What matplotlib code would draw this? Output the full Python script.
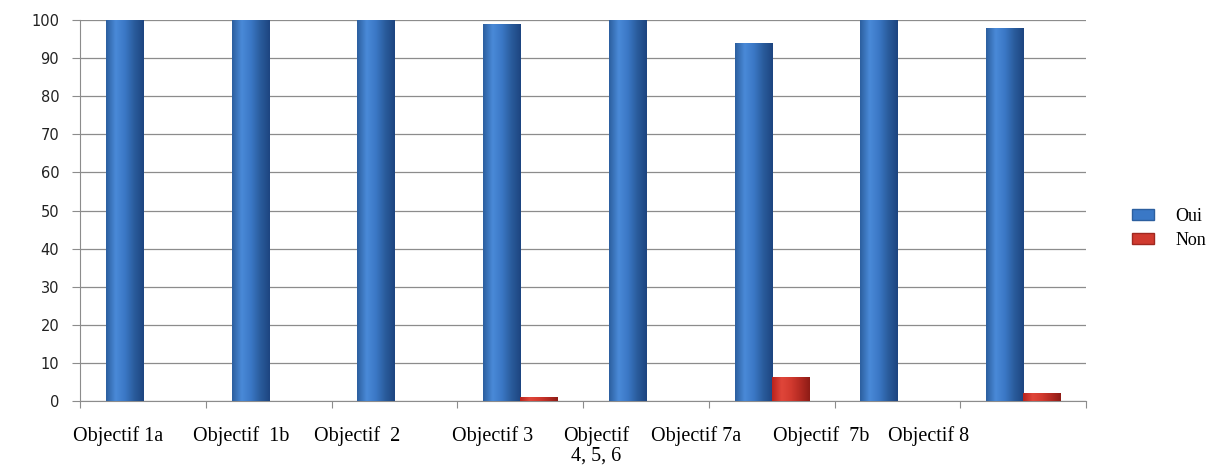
import numpy as np
import matplotlib.pyplot as plt
from matplotlib.colors import LinearSegmentedColormap
from matplotlib.patches import Patch

categories = ['Objectif 1a', 'Objectif  1b', 'Objectif  2', 'Objectif 3',
              'Objectif\n4, 5, 6', 'Objectif 7a', 'Objectif  7b', 'Objectif 8']
oui = [100, 100, 100, 99, 100, 94, 100, 98]
non = [0, 0, 0, 1, 0, 6.3, 0, 2]
# label positions are shifted left of the category centres in the original
label_offsets = [-0.2, -0.22, -0.3, -0.22, -0.4, -0.6, -0.61, -0.75]

blue_cmap = LinearSegmentedColormap.from_list('b', ['#2c5f9f', '#4a8ad8', '#3b78c6', '#2a5c9c', '#1d4580'])
red_cmap = LinearSegmentedColormap.from_list('r', ['#b8231c', '#e0463a', '#d23a2f', '#b32a22', '#8e1c16'])


def shade(ax, bars, cmap):
    grad = np.linspace(0, 1, 64).reshape(1, -1)
    for b in bars:
        x0, y0 = b.get_x(), b.get_y()
        w, h = b.get_width(), b.get_height()
        if h <= 0:
            continue
        im = ax.imshow(grad, cmap=cmap, aspect='auto', extent=(x0, x0 + w, y0, y0 + h),
                       zorder=b.get_zorder() + 0.1, interpolation='bicubic')
        im.set_clip_path(b)


fig = plt.figure(figsize=(12.13, 4.66), dpi=100)
ax = fig.add_axes([0.066, 0.1395, 0.8295, 0.8175])

x = np.arange(len(categories))
w = 0.295
b1 = ax.bar(x - w / 2, oui, w, color='#3a78c6', zorder=3)
b2 = ax.bar(x + w / 2, non, w, color='#d03a2f', zorder=3)
shade(ax, b1, blue_cmap)
shade(ax, b2, red_cmap)

ax.set_xlim(-0.5, len(categories) - 0.5)
ax.set_ylim(0, 100)
ax.set_yticks(range(0, 101, 10))
ax.tick_params(axis='y', length=6, color='#8c8c8c', labelsize=10.5, pad=9)
for t in ax.get_yticklabels():
    t.set_fontfamily('DejaVu Sans')
    t.set_color('#222222')
ax.yaxis.grid(True, color='#8c8c8c', linewidth=0.9, zorder=0)
ax.set_axisbelow(True)

ax.set_xticks(np.arange(-0.5, len(categories)), minor=False)
ax.set_xticklabels([])
ax.tick_params(axis='x', length=5, color='#8c8c8c', direction='out')

for i, (lab, off) in enumerate(zip(categories, label_offsets)):
    ax.text(i + off, -6.5, lab, ha='center', va='top', fontsize=14.5,
            family='Liberation Serif', linespacing=1.05)

for s in ['top', 'right']:
    ax.spines[s].set_visible(False)
ax.spines['left'].set_color('#8c8c8c')
ax.spines['bottom'].set_color('#8c8c8c')

handles = [Patch(facecolor='#3a78c6', edgecolor='#2c5f9f'), Patch(facecolor='#d03a2f', edgecolor='#a02820')]
leg = fig.legend(handles, ['Oui', 'Non'], loc='center left', bbox_to_anchor=(0.92, 0.51),
                 frameon=False, prop={'family': 'Liberation Serif', 'size': 13},
                 handlelength=1.2, handleheight=0.55, handletextpad=1.2, labelspacing=0.4)

fig.savefig('out.png', dpi=100)
